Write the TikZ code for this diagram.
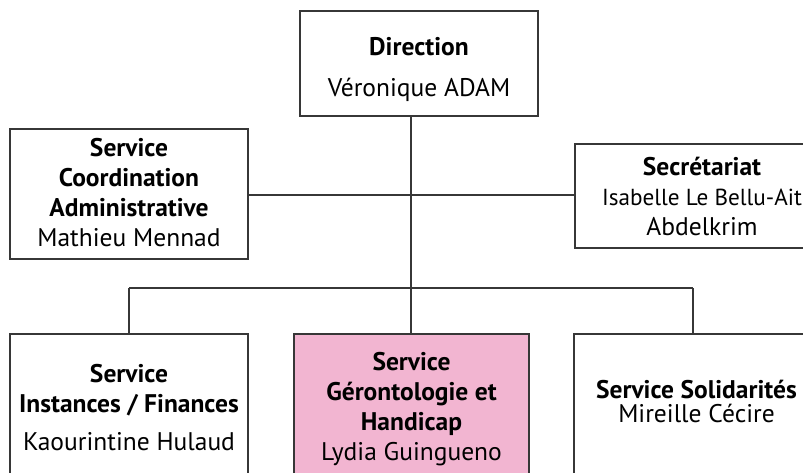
\documentclass[tikz,border=0pt]{standalone}
\usepackage{fontspec}
\setmainfont{PT Sans}
\definecolor{boxpink}{RGB}{242,181,209}
\definecolor{linegray}{RGB}{55,55,55}
\newcommand{\orgtext}[4]{\parbox[c][#2][t]{#1}{\centering\fontsize{25.5}{30}\selectfont\vspace*{#3}#4\par}}
\begin{document}
\begin{tikzpicture}[x=1pt,y=-1pt,
  orgbox/.style={draw=linegray,line width=1.1pt,fill=white,rectangle,inner sep=0pt},
  conn/.style={draw=linegray,line width=1.1pt}]
\useasboundingbox (0,0) rectangle (803,472);
% boxes
\node[orgbox] (dir) at (419,63.5)
  {\orgtext{238pt}{105pt}{23pt}{\strut\textbf{Direction}\\[11pt]Véronique ADAM}};
\node[orgbox] (coord) at (129,194)
  {\orgtext{238pt}{130pt}{6pt}{\strut\textbf{Service}\\\textbf{Coordination}\\\textbf{Administrative}\\Mathieu Mennad}};
\node[orgbox] (sec) at (702,196)
  {\orgtext{254pt}{104pt}{10pt}{\strut\textbf{Secrétariat}\\{\fontsize{23.2}{30}\selectfont Isabelle Le Bellu-Ait}\\Abdelkrim}};
\node[orgbox] (fin) at (129,409)
  {\orgtext{238pt}{150pt}{27pt}{\strut\textbf{Service}\\\textbf{Instances / Finances}\\[8pt]Kaourintine Hulaud}};
\node[orgbox,fill=boxpink] (ger) at (411.5,409)
  {\orgtext{235pt}{150pt}{15pt}{\strut\textbf{Service}\\\textbf{Gérontologie et}\\\textbf{Handicap}\\Lydia Guingueno}};
\node[orgbox] (sol) at (696.5,409)
  {\orgtext{245pt}{150pt}{43pt}{\strut\textbf{Service Solidarités}\\[-6pt]Mireille Cécire}};
% connectors
\coordinate (trunkTop) at (411,116);
\coordinate (midA) at (411,195);
\coordinate (barL) at (129,288);
\coordinate (barR) at (693,288);
\draw[conn] (trunkTop) -- (ger.north -| trunkTop);
\draw[conn] (coord.east |- midA) -- (sec.west |- midA);
\draw[conn] (barL) -- (barR);
\draw[conn] (barL) -- (barL |- fin.north);
\draw[conn] (barR) -- (barR |- sol.north);
\end{tikzpicture}
\end{document}
